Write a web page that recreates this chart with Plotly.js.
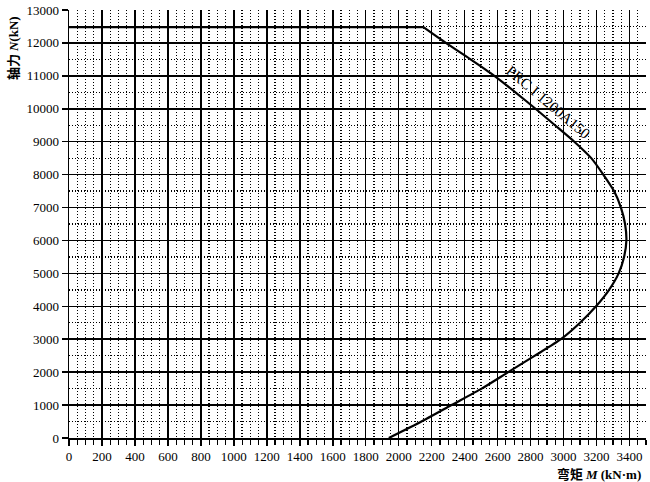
<!DOCTYPE html>
<html><head><meta charset="utf-8">
<script src="https://cdn.plot.ly/plotly-3.0.1.min.js"></script>
<style>body{margin:0;background:#fff}#c{width:650px;height:482px}</style>
</head><body><div id="c"></div>
<script>
// Flat (axial cap) segment
const capM = [0, 2150];
const capN = [12480, 12480];
// Interaction curve below the cap
const curveN = [12480, 12000, 11500, 11000, 10500, 10000, 9500, 9000, 8500, 8000, 7500, 7000, 6500, 6000, 5500, 5000, 4500, 4000, 3500, 3000, 2500, 2000, 1500, 1000, 500, 0];
const curveM = [2150, 2286, 2436, 2580, 2708, 2830, 2948, 3065, 3168, 3241, 3306, 3348, 3373, 3381, 3367, 3334, 3276, 3197, 3100, 2984, 2826, 2664, 2503, 2320, 2138, 1940];
const curveLabel = "PRC I 1200A150";
const xTickVals = [0,200,400,600,800,1000,1200,1400,1600,1800,2000,2200,2400,2600,2800,3000,3200,3400];

const serif = "Liberation Serif, Times New Roman, serif";
const cjk = "Noto Sans CJK SC, sans-serif";
const xTitle = "弯矩 <span style=\"font-family:Liberation Serif\"><i>M</i> (kN·m)</span>";
const yTitle = "轴力 <span style=\"font-family:Liberation Serif\"><i>N</i>(kN)</span>";

const data = [
  {x: capM, y: capN, mode: 'lines', line: {color: '#000', width: 2.2}, hoverinfo: 'skip'},
  {x: curveM, y: curveN, mode: 'lines', line: {color: '#000', width: 2.2, shape: 'spline', smoothing: 0.6}, hoverinfo: 'skip'}
];
const axisCommon = {
  showline: true, linecolor: '#000', linewidth: 1.5,
  showgrid: true, gridcolor: '#000', gridwidth: 1.5,
  zeroline: false, ticks: 'outside', tickcolor: '#000', tickwidth: 1.5,
  tickfont: {family: serif, size: 13, color: '#000'}
};
const minorGrid = {showgrid: true, gridcolor: '#000', gridwidth: 1.3, griddash: '1px,2px'};
const layout = {
  width: 650, height: 482,
  margin: {l: 69, r: 4, t: 10, b: 44},
  paper_bgcolor: '#fff', plot_bgcolor: '#fff',
  showlegend: false,
  xaxis: Object.assign({}, axisCommon, {
    range: [0, 3500], tickvals: xTickVals, ticklen: 6,
    minor: Object.assign({dtick: 50, tick0: 0, ticks: 'outside', ticklen: 5, tickcolor: '#000', tickwidth: 1.2}, minorGrid)
  }),
  yaxis: Object.assign({}, axisCommon, {
    range: [0, 13000], dtick: 1000, tick0: 0, ticklen: 6, tickformat: 'd',
    minor: Object.assign({dtick: 500, tick0: 0, ticks: ''}, minorGrid)
  }),
  annotations: [
    {x: 2905, y: 10200, xref: 'x', yref: 'y', text: curveLabel, showarrow: false, textangle: 40,
     font: {family: serif, size: 15, color: '#000'}},
    {xref: 'paper', yref: 'paper', xanchor: 'right', yanchor: 'middle', text: xTitle, showarrow: false,
     font: {family: cjk, size: 13, color: '#000', weight: 'bold'}},
    {xref: 'paper', yref: 'paper', text: yTitle, showarrow: false, textangle: -90, xanchor: 'center', yanchor: 'middle',
     font: {family: cjk, size: 13, color: '#000', weight: 'bold'}}
  ]
};
const pw = 650 - 69 - 4, ph = 482 - 10 - 44;
layout.annotations[1].x = (643 - 69) / pw;
layout.annotations[1].y = (482 - 44 - 473) / ph;
layout.annotations[2].x = (13 - 69) / pw;
layout.annotations[2].y = (482 - 44 - 48) / ph;
Plotly.newPlot('c', data, layout, {displayModeBar: false, staticPlot: true});
</script></body></html>
